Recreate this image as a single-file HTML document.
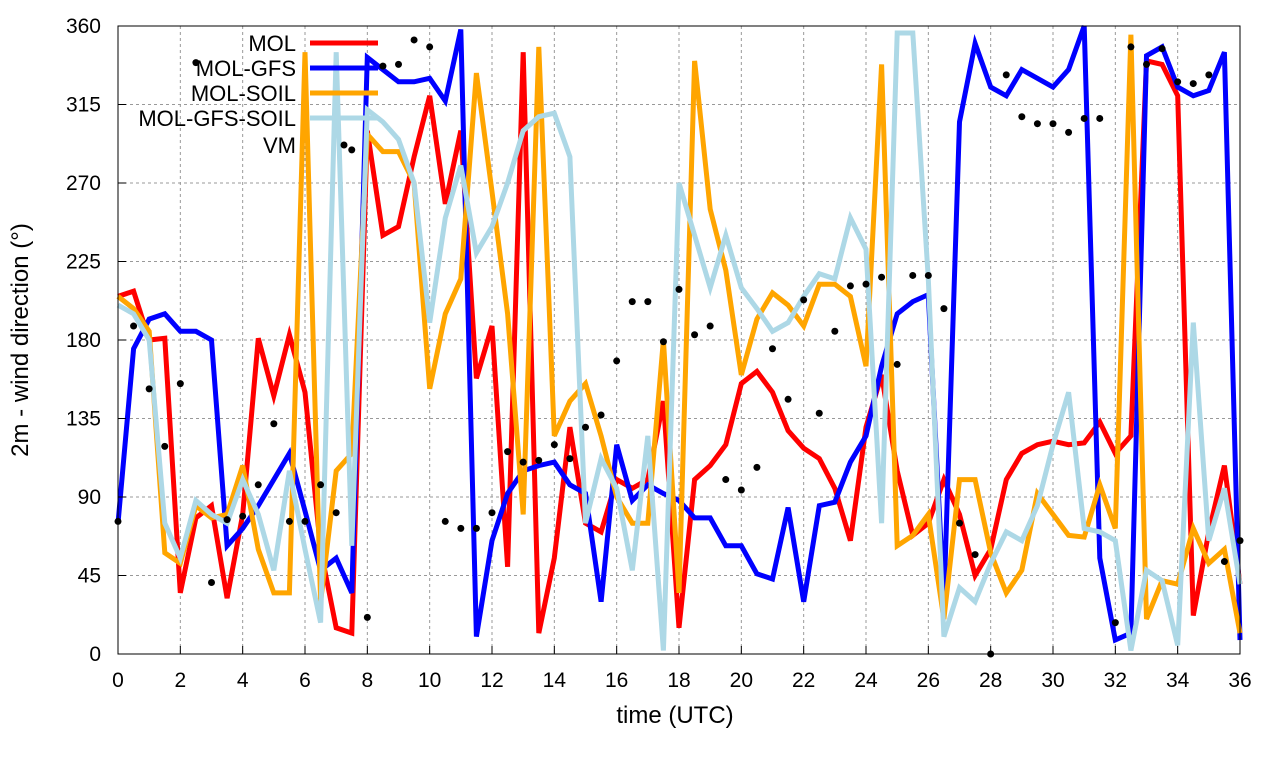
<!DOCTYPE html>
<html><head><meta charset="utf-8"><style>
html,body{margin:0;padding:0;background:#fff;}
svg{display:block;font-family:"Liberation Sans",sans-serif;}
</style></head><body>
<svg id="chart" width="1280" height="760" viewBox="0 0 1280 760" xmlns="http://www.w3.org/2000/svg">
<g id="grid"></g>
<g id="series"></g>
<rect x="118" y="26" width="1122" height="628" fill="none" stroke="#000" stroke-width="1"/>
<g id="ticks"></g>
<text x="675" y="723" font-size="24" text-anchor="middle">time (UTC)</text>
<text transform="translate(28,340) rotate(-90)" font-size="24" text-anchor="middle">2m - wind direction (°)</text>
<g id="legend"></g>
</svg>
<script>
const times = []; for (let i = 0; i <= 72; i++) times.push(i * 0.5);
const xTicks = [0,2,4,6,8,10,12,14,16,18,20,22,24,26,28,30,32,34,36];
const yTicks = [0,45,90,135,180,225,270,315,360];
const seriesNames = ["MOL","MOL-GFS","MOL-SOIL","MOL-GFS-SOIL","VM"];
const mol = [205,208,180,181,35,78,85,32,80,181,148,183,150,60,15,12,300,240,245,285,320,258,300,158,188,50,345,12,55,130,75,70,100,95,100,145,15,100,108,120,155,162,150,128,118,112,95,65,130,160,105,68,75,100,80,45,60,100,115,120,122,120,121,133,115,125,340,338,320,22,70,108,40];
const molGfs = [75,175,192,195,185,185,180,62,72,85,100,115,82,48,55,35,342,335,328,328,330,317,358,10,65,92,105,108,110,97,92,30,120,88,97,92,88,78,78,62,62,46,43,84,30,85,87,110,125,165,195,202,206,30,305,350,325,320,335,330,325,335,360,55,8,12,343,348,325,320,323,345,8];
const molSoil = [205,198,185,58,52,85,78,80,108,60,35,35,345,30,105,115,298,288,288,270,152,195,215,333,265,195,80,348,125,145,155,125,90,75,75,180,35,340,255,220,160,192,207,200,188,212,212,205,165,338,62,68,80,20,100,100,58,35,48,92,80,68,67,97,72,355,20,42,40,72,52,60,12];
const molGfsSoil = [200,195,180,75,55,88,80,75,100,80,48,105,60,18,345,62,312,305,295,270,190,250,280,230,245,270,300,308,310,285,75,112,95,48,125,2,270,240,210,240,210,198,185,190,205,218,215,250,232,75,356,356,215,10,38,30,52,70,65,85,120,150,72,70,65,2,48,42,5,190,65,95,40];
const vm = [76,188,152,119,155,339,41,77,79,97,132,76,76,97,81,289,21,337,338,352,348,76,72,72,81,116,110,111,120,112,130,137,168,202,202,179,209,183,188,100,94,107,175,146,203,138,185,211,212,216,166,217,217,198,75,57,0,332,308,304,304,299,307,307,18,348,338,347,328,327,332,53,65];

const X0=118, X1=1240, Y0=654, Y1=26;
const xs = t => X0 + (t/36)*(X1-X0);
const ys = v => Y0 - (v/360)*(Y0-Y1);
const NS="http://www.w3.org/2000/svg";
function mk(tag, attrs, parent){const e=document.createElementNS(NS,tag);for(const k in attrs)e.setAttribute(k,attrs[k]);parent.appendChild(e);return e;}
const grid=document.getElementById('grid'), ticks=document.getElementById('ticks'), ser=document.getElementById('series'), leg=document.getElementById('legend');

xTicks.forEach(t=>{
  const g=mk('line',{x1:xs(t),x2:xs(t),y1:Y1,y2:Y0,stroke:'#999','stroke-width':1,'stroke-dasharray':'3,3'},grid);
  
  
  const lb=mk('text',{x:xs(t),y:687,'font-size':21,'text-anchor':'middle'},ticks);
  lb.textContent=t;
  
  
  const tk=mk('line',{x1:xs(t),x2:xs(t),y1:Y0,y2:Y0-8,stroke:'#000'},ticks);
  
  
});
yTicks.forEach(v=>{
  const g=mk('line',{x1:X0,x2:X1,y1:ys(v),y2:ys(v),stroke:'#999','stroke-width':1,'stroke-dasharray':'3,3'},grid);
  
  
  const lb=mk('text',{x:101,y:ys(v)+7,'font-size':21,'text-anchor':'end'},ticks);
  lb.textContent=v;
  
  
  const tk=mk('line',{x1:X0,x2:X0+8,y1:ys(v),y2:ys(v),stroke:'#000'},ticks);
  
  
});

const lineSeries=[[mol,'#ff0000','mol-line'],[molGfs,'#0000ff','mol-gfs-line'],[molSoil,'#ffa500','mol-soil-line'],[molGfsSoil,'#add8e6','mol-gfs-soil-line']];
lineSeries.forEach(([d,c,n])=>{
  const pts=d.map((v,i)=>xs(times[i]).toFixed(1)+','+ys(v).toFixed(1)).join(' ');
  const p=mk('polyline',{points:pts,fill:'none',stroke:c,'stroke-width':5,'stroke-linejoin':'miter'},ser);
  
  
});
vm.forEach((v,i)=>{
  const c=mk('circle',{cx:xs(times[i]),cy:ys(v),r:3.5,fill:'#000'},ser);
  
  
});

const legColors=['#ff0000','#0000ff','#ffa500','#add8e6',null];
const legY=[43,68,93,118,145];
seriesNames.forEach((n,i)=>{
  const t=mk('text',{x:296,y:legY[i]+8,'font-size':22,'text-anchor':'end'},leg);
  t.textContent=n;
  
  
  if(legColors[i]){
    const l=mk('line',{x1:310,x2:378,y1:legY[i],y2:legY[i],stroke:legColors[i],'stroke-width':5},leg);
    
    
  } else {
    const c=mk('circle',{cx:344,cy:legY[i],r:3.5,fill:'#000'},leg);
    
    
  }
});
</script>
</body></html>
